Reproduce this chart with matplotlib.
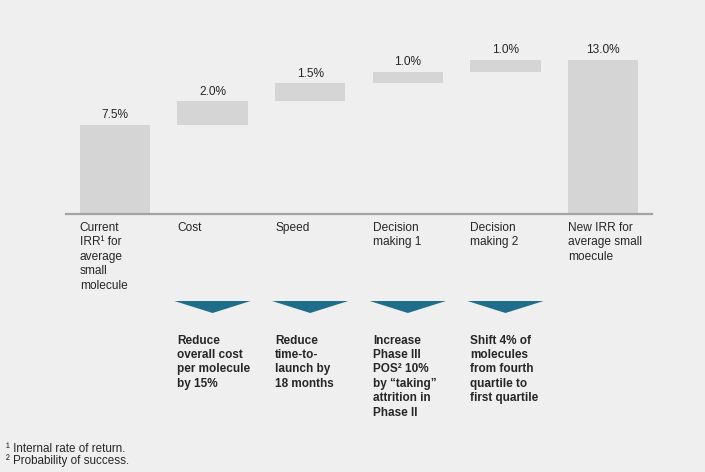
import matplotlib
matplotlib.use("Agg")
import matplotlib.pyplot as plt
from matplotlib.patches import Polygon
import numpy as np

plt.rcParams['font.family'] = ['Liberation Sans', 'DejaVu Sans']

categories = ["Current\nIRR\u00b9 for\naverage\nsmall\nmolecule", "Cost", "Speed",
              "Decision\nmaking 1", "Decision\nmaking 2", "New IRR for\naverage small\nmoecule"]
values = [7.5, 2.0, 1.5, 1.0, 1.0, 13.0]
value_labels = ["7.5%", "2.0%", "1.5%", "1.0%", "1.0%", "13.0%"]
kinds = ["total", "delta", "delta", "delta", "delta", "total"]
descriptions = ["", "Reduce\noverall cost\nper molecule\nby 15%",
                "Reduce\ntime-to-\nlaunch by\n18 months",
                "Increase\nPhase III\nPOS\u00b2 10%\nby \u201ctaking\u201d\nattrition in\nPhase II",
                "Shift 4% of\nmolecules\nfrom fourth\nquartile to\nfirst quartile", ""]
footnotes = ["\u00b9 Internal rate of return.", "\u00b2 Probability of success."]

BG = "#efefef"
BAR = "#d5d5d5"
TEAL = "#1e6e89"
TXT = "#262626"
FS = 8.6

W, H = 705, 472
fig = plt.figure(figsize=(W / 100, H / 100), dpi=100, facecolor=BG)
left_px, right_px = 66, 652
base_px, top_px = 213.5, 36.2
ax = fig.add_axes([left_px / W, 1 - base_px / H, (right_px - left_px) / W, (base_px - top_px) / H])
ax.set_facecolor(BG)
ax.set_xlim(-0.5, 5.5)
ax.set_ylim(0, 15)
for s in ["top", "left", "right"]:
    ax.spines[s].set_visible(False)
ax.spines["bottom"].set_color("#a3a3a3")
ax.spines["bottom"].set_linewidth(1.6)
ax.set_xticks([])
ax.set_yticks([])

px_per_unit = (base_px - top_px) / 15.0
def px(p):  # pixel offset to data units
    return p / px_per_unit

x = np.arange(len(values))
bottoms = []
heights = []
running = 0.0
for v, k in zip(values, kinds):
    if k == "total":
        bottoms.append(0.0)
        heights.append(v)
        running = v
    else:
        bottoms.append(running)
        heights.append(v)
        running += v
bw = 0.717
ax.bar(x, heights, bottom=bottoms, width=bw, color=BAR, edgecolor="none", zorder=2)

for xi, b, h, lab in zip(x, bottoms, heights, value_labels):
    ax.annotate(lab, (xi, b + h), xytext=(0, 6.8), textcoords="offset points",
                ha="center", va="center", fontsize=FS, color=TXT)

# category labels
lh = 14.4
for xi, cat in zip(x, categories):
    for j, line in enumerate(cat.split("\n")):
        ax.text(xi - bw / 2, -px(231 - base_px + j * lh), line, ha="left",
                va="baseline", fontsize=FS, color=TXT, clip_on=False)

# triangles and descriptions
tw = 0.39
for xi, d in zip(x, descriptions):
    if not d:
        continue
    tri = Polygon([[xi - tw, -px(301 - base_px)], [xi + tw, -px(301 - base_px)],
                   [xi, -px(313 - base_px)]], closed=True, facecolor=TEAL,
                  edgecolor="none", clip_on=False)
    ax.add_patch(tri)
    for j, line in enumerate(d.split("\n")):
        ax.text(xi - bw / 2, -px(343.5 - base_px + j * 14.4), line, ha="left",
                va="baseline", fontsize=8.5, fontweight="bold", color=TXT, clip_on=False)

for j, fn in enumerate(footnotes):
    fig.text(6 / W, 1 - (452 + j * 12) / H, fn, ha="left", va="baseline",
             fontsize=8.4, color=TXT)

fig.savefig("out.png", dpi=100, facecolor=BG)
